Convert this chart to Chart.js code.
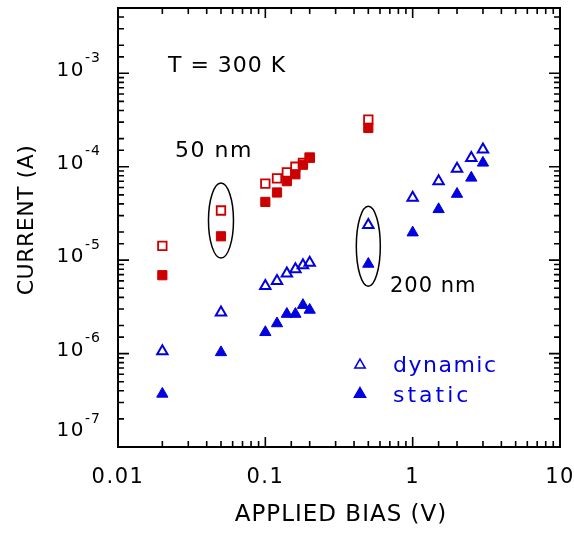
<!DOCTYPE html>
<html>
<head>
<meta charset="utf-8">
<script src="https://cdn.jsdelivr.net/npm/chart.js@4.4.1/dist/chart.umd.min.js"></script>
<style>
html, body { margin: 0; padding: 0; background: #fff; }
#wrap { width: 574px; height: 534px; }
</style>
</head>
<body>
<div id="wrap"><canvas id="myChart"></canvas></div>
<script>
// applied bias (V) and current (A)
var bias50 = [0.02, 0.05, 0.1, 0.12, 0.14, 0.16, 0.18, 0.2, 0.5];
var dynamic50 = [1.42e-5, 3.4e-5, 6.6e-5, 7.5e-5, 8.7e-5, 1.0e-4, 1.1e-4, 1.25e-4, 3.2e-4];
var static50 = [6.9e-6, 1.8e-5, 4.2e-5, 5.3e-5, 7.0e-5, 8.3e-5, 1.05e-4, 1.25e-4, 2.6e-4];

var bias200 = [0.02, 0.05, 0.1, 0.12, 0.14, 0.16, 0.18, 0.2, 0.5, 1.0, 1.5, 2.0, 2.5, 3.0];
var dynamic200 = [1.06e-6, 2.76e-6, 5.3e-6, 6.0e-6, 7.2e-6, 8.0e-6, 8.8e-6, 9.4e-6, 2.38e-5, 4.66e-5, 7.0e-5, 9.5e-5, 1.24e-4, 1.53e-4];
var static200 = [3.7e-7, 1.03e-6, 1.69e-6, 2.1e-6, 2.65e-6, 2.65e-6, 3.3e-6, 2.93e-6, 9.1e-6, 1.97e-5, 3.5e-5, 5.1e-5, 7.6e-5, 1.1e-4];

var xTickValues = [0.01, 0.1, 1, 10];
var xTickLabels = ['0.01', '0.1', '1', '10'];
var yTickExps = [-7, -6, -5, -4, -3];

var RED = '#cc0000';
var BLUE = '#0000e0';
var FONT = 'DejaVu Sans';

function pts(xs, ys) {
    return xs.map(function (v, i) { return { x: v, y: ys[i] }; });
}
function isDecade(v) {
    var l = Math.log10(v);
    return Math.abs(l - Math.round(l)) < 1e-6;
}
function font(size) {
    return size + 'px "' + FONT + '"';
}

var decor = {
    id: 'decor',
    beforeDraw: function (chart) {
        chart.ctx.letterSpacing = '1.5px';
    },
    afterDraw: function (chart) {
        var ctx = chart.ctx, a = chart.chartArea;
        var xs = chart.scales.x, ys = chart.scales.y;
        ctx.save();
        ctx.letterSpacing = '0px';
        ctx.strokeStyle = '#000';
        ctx.lineWidth = 1.6;
        ctx.beginPath();
        xs.ticks.forEach(function (t) {
            var px = xs.getPixelForValue(t.value);
            var len = isDecade(t.value) ? 10 : 6;
            ctx.moveTo(px, a.bottom); ctx.lineTo(px, a.bottom - len);
            ctx.moveTo(px, a.top); ctx.lineTo(px, a.top + len);
        });
        ys.ticks.forEach(function (t) {
            var py = ys.getPixelForValue(t.value);
            var len = isDecade(t.value) ? 11 : 6;
            ctx.moveTo(a.left, py); ctx.lineTo(a.left + len, py);
            ctx.moveTo(a.right, py); ctx.lineTo(a.right - len, py);
        });
        ctx.stroke();
        ctx.lineWidth = 2;
        ctx.strokeRect(a.left, a.top, a.right - a.left, a.bottom - a.top);

        // y tick labels 10^n
        ctx.fillStyle = '#000';
        ctx.textBaseline = 'middle';
        yTickExps.forEach(function (e) {
            var py = Math.min(ys.getPixelForValue(Math.pow(10, e)) - 3, a.bottom - 16);
            ctx.letterSpacing = '1.5px';
            ctx.font = font(20);
            ctx.textAlign = 'right';
            ctx.fillText('10', 85, py);
            ctx.letterSpacing = '1px';
            ctx.font = font(14);
            ctx.textAlign = 'left';
            ctx.fillText('-' + Math.abs(e), 85, py - 12);
        });

        // axis titles
        ctx.letterSpacing = '1px';
        ctx.font = font(23);
        ctx.textAlign = 'center';
        ctx.fillText('APPLIED BIAS (V)', (a.left + a.right) / 2 + 2, 515);
        ctx.save();
        ctx.translate(27, 220);
        ctx.rotate(-Math.PI / 2);
        ctx.letterSpacing = '0.5px';
        ctx.font = font(22);
        ctx.fillText('CURRENT (A)', 0, 0);
        ctx.restore();

        // annotations
        ctx.textAlign = 'left';
        ctx.font = font(22);
        ctx.letterSpacing = '1px';
        ctx.fillText('T = 300 K', 168, 66);
        ctx.letterSpacing = '1.5px';
        ctx.fillText('50 nm', 175, 151);
        ctx.font = font(21);
        ctx.letterSpacing = '1px';
        ctx.fillText('200 nm', 390, 287);

        // ellipses round the two sample groups
        ctx.lineWidth = 1.5;
        [[0.05, 2.65e-5, 12.5, 37.5], [0.5, 1.41e-5, 12, 40]].forEach(function (el) {
            ctx.beginPath();
            ctx.ellipse(xs.getPixelForValue(el[0]), ys.getPixelForValue(el[1]), el[2], el[3], 0, 0, Math.PI * 2);
            ctx.stroke();
        });

        // legend
        ctx.fillStyle = BLUE;
        ctx.letterSpacing = '1.5px';
        ctx.font = font(22);
        ctx.fillText('dynamic', 393, 366);
        ctx.letterSpacing = '3px';
        ctx.fillText('static', 393, 396);
        ctx.strokeStyle = BLUE;
        ctx.fillStyle = 'rgba(0,0,0,0)';
        Chart.helpers.drawPoint(ctx, { pointStyle: 'triangle', radius: 6, rotation: 0, borderWidth: 2 }, 360, 365);
        ctx.fillStyle = BLUE;
        Chart.helpers.drawPoint(ctx, { pointStyle: 'triangle', radius: 6.5, rotation: 0, borderWidth: 1 }, 360, 394);
        ctx.restore();
        ctx.letterSpacing = '0px';
    }
};

window.onload = function () {
    const ctx = document.getElementById('myChart');
    const myChart = new Chart(ctx, {
        type: 'scatter',
        data: {
            datasets: [{
                label: '50 nm static',
                data: pts(bias50, static50),
                pointStyle: 'rect',
                pointRadius: 6.5,
                backgroundColor: RED,
                borderColor: RED,
                borderWidth: 1
            }, {
                label: '200 nm static',
                data: pts(bias200, static200),
                pointStyle: 'triangle',
                pointRadius: 6.5,
                backgroundColor: BLUE,
                borderColor: BLUE,
                borderWidth: 1
            }, {
                label: '50 nm dynamic',
                data: pts(bias50, dynamic50),
                pointStyle: 'rect',
                pointRadius: 6,
                backgroundColor: 'rgba(0,0,0,0)',
                borderColor: RED,
                borderWidth: 1.8
            }, {
                label: '200 nm dynamic',
                data: pts(bias200, dynamic200),
                pointStyle: 'triangle',
                pointRadius: 6,
                backgroundColor: 'rgba(0,0,0,0)',
                borderColor: BLUE,
                borderWidth: 2
            }]
        },
        options: {
            responsive: true,
            maintainAspectRatio: false,
            animation: false,
            events: [],
            layout: { padding: { left: 0, right: 14, top: 5, bottom: 0 } },
            scales: {
                x: {
                    type: 'logarithmic',
                    min: 0.01,
                    max: 10,
                    grid: { display: false, drawTicks: false },
                    border: { display: false },
                    ticks: {
                        autoSkip: false,
                        maxRotation: 0,
                        padding: 18,
                        color: '#000',
                        font: { family: FONT, size: 21 },
                        callback: function (value) {
                            var i = xTickValues.findIndex(function (v) { return Math.abs(v - value) / v < 1e-6; });
                            return i >= 0 ? xTickLabels[i] : '';
                        }
                    },
                    afterFit: function (s) { s.height = 87; s.paddingLeft = 0; s.paddingRight = 0; }
                },
                y: {
                    type: 'logarithmic',
                    min: 1e-7,
                    max: 5e-3,
                    grid: { display: false, drawTicks: false },
                    border: { display: false },
                    ticks: { display: false },
                    afterFit: function (s) { s.width = 118; }
                }
            },
            plugins: {
                legend: { display: false },
                tooltip: { enabled: false }
            }
        },
        plugins: [decor]
    });
};
</script>
</body>
</html>
